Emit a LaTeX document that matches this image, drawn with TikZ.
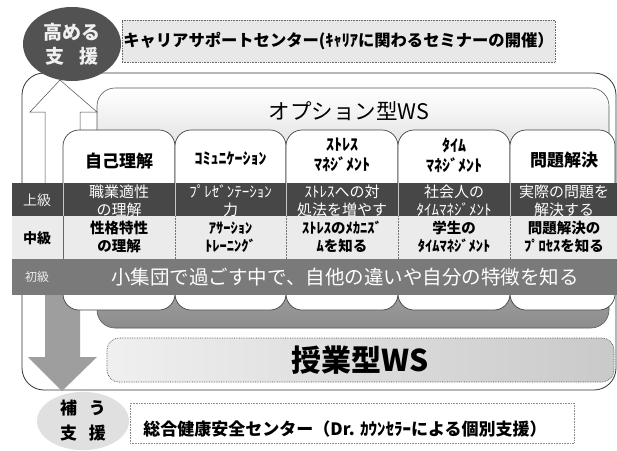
\documentclass[tikz,border=0pt]{standalone}
\usepackage{fontspec}
\setmainfont{Noto Sans CJK JP}
\usetikzlibrary{shapes.geometric}
\begin{document}
\begin{tikzpicture}[x=1pt,y=-1pt,
  every node/.style={inner sep=0pt, align=center},
  tabbox/.style={draw=black!75, line width=0.7pt, rounded corners=16pt, fill=white},
  hd/.style={font=\bfseries\fontsize{17}{20}\selectfont},
  hdk/.style={font=\bfseries\fontsize{16}{20}\selectfont},
  upper/.style={text=white, font=\fontsize{15}{18}\selectfont},
  midl/.style={font=\bfseries\fontsize{14.5}{18}\selectfont},
  lbl/.style={font=\fontsize{14}{16}\selectfont},
  dotbox/.style={draw=black!60, densely dotted, line width=0.6pt},
  sep/.style={draw=gray!45, line width=1pt},
  dsep/.style={draw=black!55, densely dotted, line width=0.5pt},
]
\useasboundingbox (0,0) rectangle (617,450);
\fill[white] (0,0) rectangle (617,450);

% outer frame
\draw[line width=0.8pt, draw=black!80, rounded corners=22pt, fill=white] (22,73) rectangle (616,390);
% inner option frame
\draw[line width=0.6pt, draw=black!65, rounded corners=18pt, top color=white, bottom color=black!45] (97,88) rectangle (609,328);

% up arrow (outlined)
\draw[line width=0.5pt, draw=black!70, fill=white] (60,80) -- (97,112) -- (80,112) -- (80,190) -- (45,190) -- (45,112) -- (30,112) -- cycle;

% top ellipse
\node[ellipse, fill=black!68, minimum width=98pt, minimum height=74pt, text=white!88!gray, font=\bfseries\fontsize{19}{24}\selectfont] (takameru) at (72,44) {高める\\支\hspace{0.8em}援};

% career box
\node[dotbox, fill=gray!18, minimum width=433pt, minimum height=42pt, font=\bfseries\fontsize{16.3}{18}\selectfont] (career) at (338.5,41) {キャリアサポートセンター(ｷｬﾘｱに関わるセミナーの開催）};

% down arrow (grey)
\fill[black!38] (45,290) -- (80,290) -- (80,357) -- (97,357) -- (62,391) -- (28,357) -- (45,357) -- cycle;

% tabs
\draw[tabbox] (63,130) rectangle (175,310);
\draw[tabbox] (175,130) rectangle (286,310);
\draw[tabbox] (286,130) rectangle (398,310);
\draw[tabbox] (398,130) rectangle (510,310);
\draw[tabbox] (510,130) rectangle (615,310);

% bands
\fill[black!72] (12,183) rectangle (617,216);
\fill[gray!16] (12,216) rectangle (617,259);
\fill[black!52] (12,259) rectangle (617,295);
\foreach \xx in {63,175,286,398,510} {
  \draw[sep] (\xx,183) -- (\xx,216);
  \draw[dsep] (\xx,216) -- (\xx,259);
}
\draw[draw=black!60, line width=0.6pt] (63,216) -- (63,259);

% option title
\node[font=\fontsize{21.5}{24}\selectfont] (optws) at (349,111) {オプション型WS};

% headers
\node[hd] (h1) at (119,161) {自己理解};
\node[hdk] (h2) at (230.5,159) {ｺﾐｭﾆｹｰｼｮﾝ};
\node[hdk] (h3) at (342,155) {ｽﾄﾚｽ\\ﾏﾈｼﾞﾒﾝﾄ};
\node[hdk] (h4) at (454,155) {ﾀｲﾑ\\ﾏﾈｼﾞﾒﾝﾄ};
\node[hd] (h5) at (564,160) {問題解決};

% level labels
\node[lbl, text=white!85!gray] (l1) at (37,200) {上級};
\node[lbl, font=\bfseries\fontsize{14}{16}\selectfont] (l2) at (37,238) {中級};
\node[lbl, text=white!85!gray, font=\fontsize{12}{14}\selectfont] (l3) at (37,277) {初級};

% upper row
\node[upper] (u1) at (119,201) {職業適性\\の理解};
\node[upper] (u2) at (230.5,201) {ﾌﾟﾚｾﾞﾝﾃｰｼｮﾝ\\力};
\node[upper] (u3) at (342,201) {ｽﾄﾚｽへの対\\処法を増やす};
\node[upper] (u4) at (454,201) {社会人の\\ﾀｲﾑﾏﾈｼﾞﾒﾝﾄ};
\node[upper] (u5) at (564,201) {実際の問題を\\解決する};

% middle row
\node[midl] (m1) at (119,237) {性格特性\\の理解};
\node[midl] (m2) at (230.5,237) {ｱｻｰｼｮﾝ\\ﾄﾚｰﾆﾝｸﾞ};
\node[midl] (m3) at (342,237) {ｽﾄﾚｽのﾒｶﾆｽﾞ\\ﾑを知る};
\node[midl] (m4) at (454,237) {学生の\\ﾀｲﾑﾏﾈｼﾞﾒﾝﾄ};
\node[midl] (m5) at (564,237) {問題解決の\\ﾌﾟﾛｾｽを知る};

% basic row
\node[text=white, font=\fontsize{19.5}{22}\selectfont] (basic) at (345,277) {小集団で過ごす中で、自他の違いや自分の特徴を知る};

% class WS
\node[draw=black!70, densely dotted, line width=0.7pt, rounded corners=12pt, left color=gray!12, right color=gray!42, minimum width=507pt, minimum height=44pt, font=\bfseries\fontsize{30}{32}\selectfont] (jugyo) at (360.5,360) {授業型WS};

% bottom ellipse
\node[ellipse, fill=gray!24, minimum width=92pt, minimum height=58pt, font=\bfseries\fontsize{17}{25}\selectfont] (oginau) at (83,421) {補\hspace{0.7em}う\\支\hspace{0.7em}援};

% health center box
\node[dotbox, draw=black!45, minimum width=444pt, minimum height=40pt] (kenko) at (352,423) {};
\node[font=\bfseries\fontsize{17}{18}\selectfont] (kenkotxt) at (345,429) {総合健康安全センター（Dr. ｶｳﾝｾﾗｰによる個別支援）};
\end{tikzpicture}
\end{document}
